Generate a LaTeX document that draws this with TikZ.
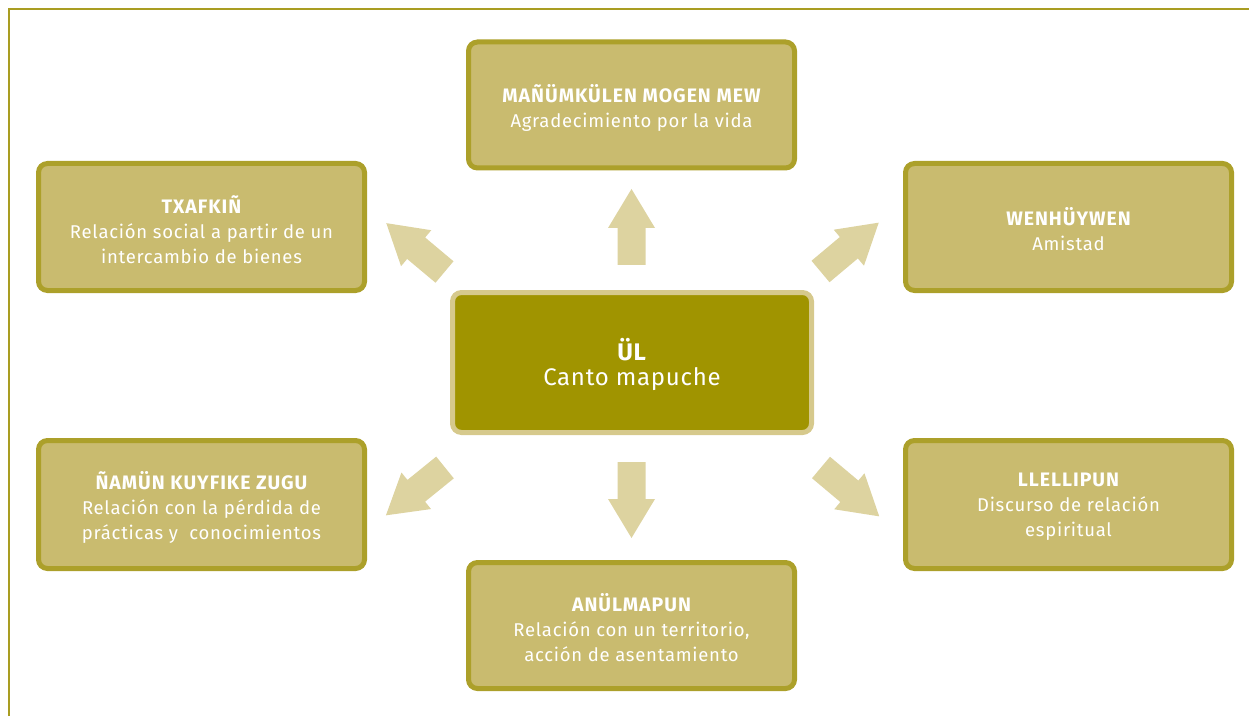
\documentclass[tikz,border=0pt]{standalone}
\usepackage{fontspec}
\setmainfont{Fira Sans}
\newfontfamily\titlefont[LetterSpace=5]{Fira Sans}
\newfontfamily\bodyfont[LetterSpace=4]{Fira Sans}
\newfontfamily\corefont[LetterSpace=3]{Fira Sans}
\newcommand{\boxtitle}[1]{{\titlefont\bfseries\fontsize{19.5}{25}\selectfont #1}}
\definecolor{boxfill}{HTML}{C9BB6F}
\definecolor{boxline}{HTML}{ACA02A}
\definecolor{corefill}{HTML}{A09400}
\definecolor{coreline}{HTML}{D6C98C}
\definecolor{arrowfill}{HTML}{DDD3A0}
\definecolor{frameline}{HTML}{A99D22}
\tikzset{
  blockarrow/.pic={\fill[arrowfill] (0,-14)--(37,-14)--(37,-23.5)--(76,0)--(37,23.5)--(37,14)--(0,14)--cycle;}
}
\begin{document}
\begin{tikzpicture}[x=1pt,y=1pt,
  sidebox/.style={draw=boxline, fill=boxfill, line width=5pt, rounded corners=9pt,
    minimum width=326pt, minimum height=126pt, inner sep=0pt},
  sidetext/.style={text=white, align=center,
    font=\bodyfont\fontsize{18.5}{25}\selectfont, inner sep=0pt},
  corebox/.style={draw=coreline, fill=corefill, line width=5pt, rounded corners=9pt,
    minimum width=359pt, minimum height=140pt, inner sep=0pt},
  coretext/.style={text=white, align=center,
    font=\corefont\fontsize{24}{25}\selectfont, inner sep=0pt},
  frame/.style={draw=frameline, line width=2pt}
]
\useasboundingbox (0,0) rectangle (1249,716);
% frame
\coordinate (fa) at (9,0);
\coordinate (fb) at (9,707);
\coordinate (fc) at (1249,707);
\draw[frame] (fa) -- (fb) -- (fc);

% center
\node[corebox] (core) at (632,353.5) {};
\node[coretext] (coret) at ([yshift=-2pt]core.center) {\textbf{ÜL}\\Canto mapuche};

% side boxes
\node[sidebox] (top) at (631.5,611) {};
\node[sidetext] (topt) at ([yshift=-2.5pt]top.center) {\boxtitle{MAÑÜMKÜLEN MOGEN MEW}\\Agradecimiento por la vida};
\node[sidebox, minimum height=127pt] (ul) at (201.5,489) {};
\node[sidetext] (ult) at ([yshift=-2.5pt]ul.center) {\boxtitle{TXAFKIÑ}\\Relación social a partir de un\\intercambio de bienes};
\node[sidebox, minimum height=127pt] (ur) at (1068.5,489) {};
\node[sidetext] (urt) at ([yshift=-2.5pt]ur.center) {\boxtitle{WENHÜYWEN}\\Amistad};
\node[sidebox, minimum height=128pt] (ll) at (201.5,211.5) {};
\node[sidetext] (llt) at ([yshift=-2.5pt]ll.center) {\boxtitle{ÑAMÜN KUYFIKE ZUGU}\\Relación con la pérdida de\\prácticas y~ conocimientos};
\node[sidebox, minimum height=128pt] (lr) at (1068.5,211.5) {};
\node[sidetext] (lrt) at ([yshift=-2.5pt]lr.center) {\boxtitle{LLELLIPUN}\\Discurso de relación\\espiritual};
\node[sidebox] (bot) at (631.5,90.5) {};
\node[sidetext] (bott) at ([yshift=-2.5pt]bot.center) {\boxtitle{ANÜLMAPUN}\\Relación con un territorio,\\acción de asentamiento};

% block arrows
\pic[rotate=90] at (631.5,451) {blockarrow};
\pic[rotate=-90] at (631.5,254) {blockarrow};
\pic[rotate=140] at (444.5,444) {blockarrow};
\pic[rotate=40] at (820.5,444.5) {blockarrow};
\pic[rotate=219] at (445,248.5) {blockarrow};
\pic[rotate=-40] at (821,248.5) {blockarrow};
\end{tikzpicture}
\end{document}
